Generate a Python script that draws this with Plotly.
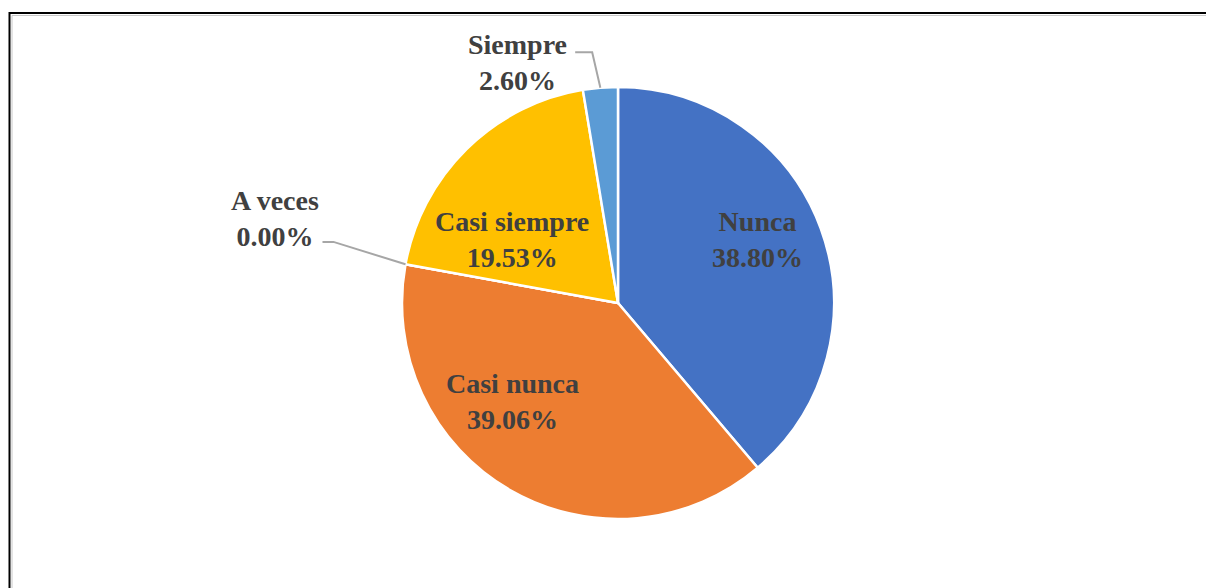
import math
import plotly.graph_objects as go

# ---- data ----
categories = ["Nunca", "Casi nunca", "A veces", "Casi siempre", "Siempre"]
percentages = [38.80, 39.06, 0.00, 19.53, 2.60]
colors = ["#4472C4", "#ED7D31", "#A5A5A5", "#FFC000", "#5B9BD5"]

# ---- layout / style constants (pixels, page coordinates) ----
PAGE_MARGIN = 8                      # default body margin of the html page
W, H = 1214 - PAGE_MARGIN, 588 - PAGE_MARGIN
CX, CY, R = 618 - PAGE_MARGIN, 303 - PAGE_MARGIN, 216
FONT = dict(family="Liberation Serif", size=28, color="#404040")
# inside labels: (radius factor, angle shift in degrees from slice mid-angle)
inside_style = {"Nunca": (0.71, -4.2), "Casi nunca": (0.67, 17.0), "Casi siempre": (0.57, -14.5)}
# outside labels: label centre (r, shift), elbow (r, shift), horizontal leader length
outside_style = {
    "Siempre": dict(label=(261, -18.0), elbow=(252, -1.2), tail=-17),
    "A veces": dict(label=(353, 3.6), elbow=(291, 1.8), tail=-11),
}

fig = go.Figure()

# hidden pixel-space axes for annotations & shapes
fig.add_trace(go.Scatter(x=[0, W], y=[0, H], mode="markers", marker=dict(opacity=0),
                         hoverinfo="skip", showlegend=False))

fig.add_trace(go.Pie(
    labels=categories,
    values=percentages,
    sort=False,
    direction="clockwise",
    rotation=0,
    marker=dict(colors=colors, line=dict(color="white", width=2.5)),
    textinfo="none",
    textposition="none",
    hoverinfo="label+percent",
    showlegend=False,
    domain=dict(x=[(CX - R) / W, (CX + R) / W], y=[1 - (CY + R) / H, 1 - (CY - R) / H]),
))


def polar(r, theta_deg):
    t = math.radians(theta_deg)
    return CX + r * math.sin(t), CY - r * math.cos(t)


total = sum(percentages)
cum = 0.0
annotations = []
shapes = []
for cat, val in zip(categories, percentages):
    start = cum / total * 360
    cum += val
    end = cum / total * 360
    mid = (start + end) / 2
    text = f"<b>{cat}<br>{val:.2f}%</b>"
    if cat in inside_style:
        rf, sh = inside_style[cat]
        x, y = polar(rf * R, mid + sh)
        annotations.append(dict(x=x, y=y, xref="x", yref="y", text=text, showarrow=False,
                                font=FONT, align="center", xanchor="center", yanchor="middle"))
    else:
        st = outside_style[cat]
        lx, ly = polar(st["label"][0], mid + st["label"][1])
        annotations.append(dict(x=lx, y=ly, xref="x", yref="y", text=text, showarrow=False,
                                font=FONT, align="center", xanchor="center", yanchor="middle"))
        x0, y0 = polar(R, mid)
        ex, ey = polar(st["elbow"][0], mid + st["elbow"][1])
        shapes.append(dict(type="path", xref="x", yref="y",
                           path=f"M {x0},{y0} L {ex},{ey} L {ex + st['tail']},{ey}",
                           line=dict(color="#A6A6A6", width=2)))

# chart frame (left edge as close to the page edge as the figure allows)
FX, FY = 1.5, 13 - PAGE_MARGIN
shapes.append(dict(type="rect", xref="paper", yref="paper",
                   x0=FX / W, y0=1 - FY / H, x1=1.05, y1=-0.05,
                   line=dict(color="black", width=2)))
shapes.append(dict(type="rect", xref="paper", yref="paper",
                   x0=(FX + 2.5) / W, y0=1 - (FY + 2.5) / H, x1=1.05, y1=-0.05,
                   line=dict(color="#C8C8C8", width=1)))

fig.update_layout(
    width=W, height=H,
    margin=dict(l=0, r=0, t=0, b=0),
    paper_bgcolor="white", plot_bgcolor="white",
    xaxis=dict(range=[0, W], visible=False, fixedrange=True, domain=[0, 1]),
    yaxis=dict(range=[H, 0], visible=False, fixedrange=True, domain=[0, 1]),
    annotations=annotations,
    shapes=shapes,
    showlegend=False,
)

fig.write_html("out.html")
